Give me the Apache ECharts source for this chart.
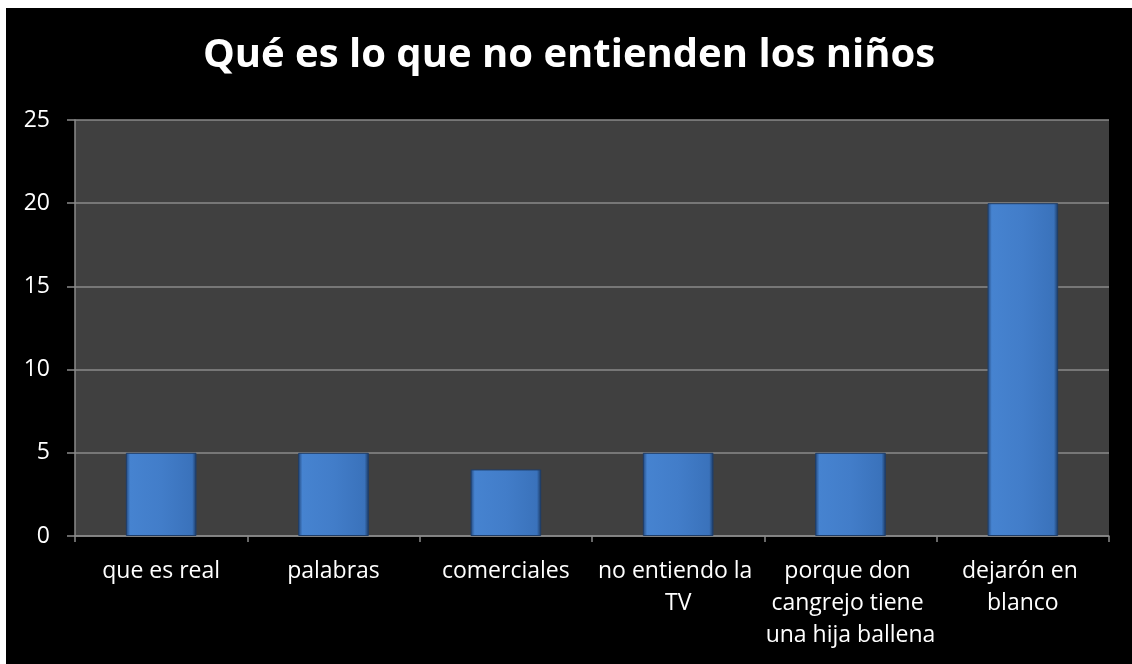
<!DOCTYPE html>
<html>
<head>
<meta charset="utf-8">
<script src="https://cdn.jsdelivr.net/npm/echarts@6/dist/echarts.min.js"></script>
<style>
  html, body { margin: 0; padding: 0; background: #fff; }
  #chart { position: absolute; left: 6px; top: 8px; width: 1126px; height: 656px; background: #000; }
</style>
</head>
<body>
<div id="chart"></div>
<script>
// respuestas de la encuesta
var categorias = ['que es real', 'palabras', 'comerciales', 'no entiendo la TV', 'porque don cangrejo tiene una hija ballena', 'dejarón en blanco'];
var valores = [5, 5, 4, 5, 5, 20];
var titulo = 'Qué es lo que no entienden los niños';

var myChart = echarts.init(document.getElementById('chart'));

var barColor = new echarts.graphic.LinearGradient(0, 0, 1, 0, [
    {offset: 0, color: '#22467a'},
    {offset: 0.06, color: '#4683d0'},
    {offset: 0.5, color: '#427dc9'},
    {offset: 0.94, color: '#3a72bb'},
    {offset: 1, color: '#1b3860'}
]);

myChart.setOption({
    backgroundColor: '#000',
    animation: false,
    title: {
        text: titulo,
        left: 'center',
        top: 23,
        textStyle: {
            color: '#fff',
            fontFamily: 'Open Sans',
            fontWeight: 'bold',
            fontSize: 40
        }
    },
    grid: {
        left: 69,
        right: 23,
        top: 112,
        bottom: 128,
        show: true,
        backgroundColor: '#404040',
        borderWidth: 0
    },
    xAxis: {
        type: 'category',
        data: categorias,
        axisLine: {lineStyle: {color: '#8a8a8a', width: 1.5}},
        axisTick: {show: true, length: 6, lineStyle: {color: '#8a8a8a', width: 1.5}},
        axisLabel: {
            color: '#fff',
            fontFamily: 'Open Sans',
            fontSize: 23,
            interval: 0,
            margin: 19,
            lineHeight: 32,
            width: 178,
            overflow: 'break'
        }
    },
    yAxis: {
        type: 'value',
        min: 0,
        max: 25,
        interval: 5,
        axisLine: {show: true, lineStyle: {color: '#8a8a8a', width: 1.5}},
        axisTick: {show: true, length: 8, lineStyle: {color: '#8a8a8a', width: 1.5}},
        splitLine: {lineStyle: {color: '#8a8a8a', width: 1.5}},
        axisLabel: {
            color: '#fff',
            fontFamily: 'Open Sans',
            fontSize: 23,
            margin: 25
        }
    },
    series: [{
        type: 'bar',
        data: valores,
        barWidth: '41%',
        itemStyle: {
            color: barColor,
            borderColor: '#1f3e69',
            borderWidth: 1
        }
    }]
});
</script>
</body>
</html>
